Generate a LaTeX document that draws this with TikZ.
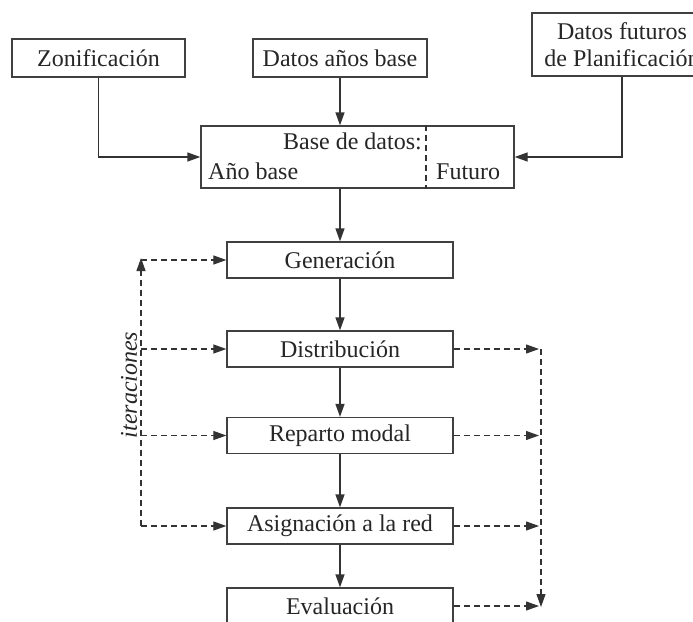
\documentclass[tikz,border=0pt]{standalone}
\usepackage{fontspec}
\setmainfont{Liberation Serif}
\usetikzlibrary{arrows.meta}
\begin{document}
\begin{tikzpicture}[x=1pt,y=-1pt,
  every node/.style={text=black!85},
  box/.style={draw=black!75, line width=1.3pt, fill=white, inner sep=0pt, font=\fontsize{24}{27}\selectfont, align=center},
  proc/.style={box, minimum width=226pt, minimum height=36pt},
  txt/.style={inner sep=0pt, font=\fontsize{24}{27}\selectfont},
  arr/.style={draw=black!80, line width=1.3pt, -{Triangle[length=13pt,width=9pt]}},
  darr/.style={draw=black!80, line width=1.2pt, dash pattern=on 6pt off 4pt, -{Triangle[length=13pt,width=9pt]}},
  dline/.style={draw=black!80, line width=1.2pt, dash pattern=on 6pt off 4pt}
]
\useasboundingbox (0,0) rectangle (693,621);
% top boxes
\node[box, minimum width=173pt, minimum height=38pt] (zon) at (98.5,58) {Zonificación};
\node[box, minimum width=174pt, minimum height=38pt] (dab) at (340,58) {Datos años base};
\node[box, minimum width=180pt, minimum height=63pt] (dfp) at (622,44.5) {Datos futuros\\de Planificación};
% base de datos
\node[box, minimum width=313pt, minimum height=62pt] (base) at (357.5,157) {};
\coordinate (div) at (426,157);
\draw[dline] (div |- base.north) -- (div |- base.south);
\node[txt, anchor=base east] (bdt) at (422,149) {Base de datos:};
\node[txt, anchor=base west] (ab) at (208,179) {Año base};
\node[txt, anchor=base west] (fu) at (436,179) {Futuro};
% process boxes
\node[proc] (gen) at (340,260) {Generación};
\node[proc] (dis) at (340,349) {Distribución};
\node[proc] (rep) at (340,435.5) {Reparto modal};
\node[proc] (asi) at (340,526) {Asignación a la red};
\node[proc] (eva) at (340,606) {Evaluación};
% solid connectors
\draw[arr] (zon.south) |- (base.west);
\draw[arr] (dfp.south) |- (base.east);
\draw[arr] (dab.south) -- (dab.south |- base.north);
\draw[arr] (gen.north |- base.south) -- (gen.north);
\draw[arr] (gen) -- (dis);
\draw[arr] (dis) -- (rep);
\draw[arr] (rep) -- (asi);
\draw[arr] (asi) -- (eva);
% left iteration loop
\coordinate (lb) at (141,526);
\coordinate (lt) at (141,258);
\draw[darr] (lb) -- (lt);
\draw[darr] (lt |- gen.west) -- (gen.west);
\draw[darr] (lt |- dis.west) -- (dis.west);
\draw[darr] (lt |- rep.west) -- (rep.west);
\draw[darr] (lb |- asi.west) -- (asi.west);
\node[txt, rotate=90, font=\fontsize{24}{27}\selectfont\itshape] (it) at (129,385) {iteraciones};
% right collector
\coordinate (rt) at (541,349);
\coordinate (rb) at (541,607);
\coordinate (re) at (539,0);
\draw[darr] (rt) -- (rb);
\draw[darr] (dis.east) -- (re |- dis.east);
\draw[darr] (rep.east) -- (re |- rep.east);
\draw[darr] (asi.east) -- (re |- asi.east);
\draw[darr] (eva.east) -- (re |- eva.east);
\end{tikzpicture}
\end{document}
